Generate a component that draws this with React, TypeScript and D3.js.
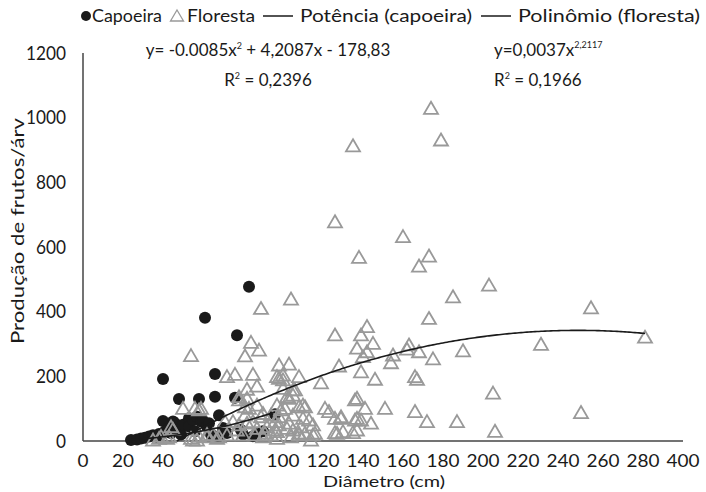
import React from 'react';
import * as d3 from 'd3';

// Diâmetro (cm), Produção de frutos/árv
const capoeira: [number, number][] = [
  [24, 3], [27, 5], [29, 8], [31, 10], [33, 14], [35, 18], [37, 12], [38, 22], [40, 192], [40, 62],
  [41, 30], [43, 40], [44, 25], [45, 60], [46, 55], [48, 130], [48, 35], [49, 20], [50, 50], [53, 70],
  [53, 45], [55, 65], [56, 30], [57, 75], [58, 130], [59, 60], [60, 63], [61, 381], [62, 45], [63, 55],
  [64, 20], [66, 207], [66, 137], [68, 80], [68, 15], [70, 40], [72, 25], [76, 134], [77, 327], [79, 34],
  [80, 20], [83, 477], [85, 15], [87, 21], [90, 30], [96, 83],
];

const floresta: [number, number][] = [
  [35, 3], [38, 8], [39, 14], [42, 8], [43, 13], [44, 44], [45, 36], [50, 101], [54, 8], [54, 264],
  [55, 3], [56, 101], [57, 3], [58, 14], [58, 96], [59, 101], [62, 13], [62, 20], [65, 19], [67, 8],
  [68, 13], [72, 19],
  [71, 60], [72, 199], [75, 60], [76, 206], [77, 34], [78, 137], [78, 50], [78, 127], [80, 19], [81, 80],
  [81, 106], [81, 263], [82, 55], [82, 160], [82, 132], [83, 101], [84, 305], [85, 206], [85, 60], [86, 19],
  [87, 170], [87, 111], [87, 39], [88, 281], [89, 410], [89, 75], [90, 85], [90, 13], [91, 24], [92, 44],
  [94, 80], [94, 19], [96, 60], [96, 34], [97, 29], [97, 199], [97, 111], [97, 8], [98, 235], [98, 194],
  [98, 75], [98, 50], [99, 96], [100, 204], [100, 189], [100, 163], [101, 101], [102, 137], [102, 39], [103, 238],
  [103, 132], [103, 55], [104, 439], [104, 13], [105, 158], [105, 142], [105, 80], [105, 34], [106, 158], [108, 199],
  [108, 106], [108, 19], [108, 24], [110, 111], [110, 70], [109, 44], [111, 24], [111, 106],
  [113, 65], [114, 3], [115, 50], [115, 19], [116, 24], [119, 180], [121, 101], [123, 91], [126, 678], [126, 328],
  [126, 70], [126, 26], [127, 24], [128, 232], [129, 70], [129, 75], [130, 29], [135, 913], [135, 26], [136, 127],
  [136, 65], [137, 287], [137, 132], [137, 70], [137, 34], [138, 568], [139, 328], [139, 214], [139, 65], [140, 261],
  [141, 101], [142, 354], [142, 276], [144, 55], [145, 302], [146, 191], [151, 101], [154, 242], [155, 266], [160, 632],
  [162, 284], [163, 297], [166, 199], [167, 191], [166, 91], [168, 541], [168, 276], [172, 60], [173, 572], [173, 379],
  [174, 1029], [175, 254], [179, 931], [185, 446], [187, 60], [190, 279],
  [203, 482], [205, 148], [206, 30], [229, 299], [249, 88], [254, 412], [281, 321],
];

// trend lines as printed on the chart
const polyCoef = [-0.0085, 4.2087, -178.83];
const polyRange = [47, 281];
const powerCoef = [0.0037, 2.2117];
const powerRange = [24, 96];

const xTickValues = [0, 20, 40, 60, 80, 100, 120, 140, 160, 180, 200, 220, 240, 260, 280, 300];
const xTickLabels = ['0', '20', '40', '60', '80', '100', '120', '140', '160', '180', '200', '220', '240', '260', '280', '400'];
const yTickValues = [0, 200, 400, 600, 800, 1000, 1200];

const W = 706;
const H = 492;
const font = 'Lato, "Noto Sans", sans-serif';
const ink = '#1a1a1a';

const triPath = 'M0,-6.5L7,5.5L-7,5.5Z';

export default function App() {
  const x = d3.scaleLinear().domain([0, 300]).range([83, 683]);
  const y = d3.scaleLinear().domain([0, 1200]).range([441, 53]);

  const polyPath = d3.line<number>()
    .x(d => x(d))
    .y(d => y(polyCoef[0] * d * d + polyCoef[1] * d + polyCoef[2]))(d3.range(polyRange[0], polyRange[1] + 0.5, 1));

  const powPath = d3.line<number>()
    .x(d => x(d))
    .y(d => y(powerCoef[0] * Math.pow(d, powerCoef[1])))(d3.range(powerRange[0], powerRange[1] + 0.5, 1));

  return (
    <svg width={W} height={H} style={{ position: 'absolute', left: 0, top: 0, background: '#fff' }}
      fontFamily={font}>
      {/* axes */}
      <line x1={x(0)} x2={x(0)} y1={y(1200)} y2={y(0)} stroke="#444" strokeWidth={1.5} />
      <line x1={x(0)} x2={x(300)} y1={y(0)} y2={y(0)} stroke="#444" strokeWidth={1.5} />

      {yTickValues.map(v => (
        <text key={v} x={66} y={y(v)} dy="0.35em" textAnchor="end" fontSize={19} fill={ink}
          textLength={String(v).length * 10} lengthAdjust="spacingAndGlyphs">{v}</text>
      ))}
      {xTickValues.map((v, i) => (
        <text key={v} x={x(v)} y={461} dy="0.35em" textAnchor="middle" fontSize={17} fill={ink}
          textLength={xTickLabels[i].length * 11} lengthAdjust="spacingAndGlyphs">{xTickLabels[i]}</text>
      ))}

      <text x={384} y={482} dy="0.35em" textAnchor="middle" fontSize={15} fill={ink}
        textLength={122} lengthAdjust="spacingAndGlyphs">Diâmetro (cm)</text>
      <text transform={`translate(18,231) rotate(-90)`} dy="0.35em" textAnchor="middle" fontSize={18} fill={ink}
        textLength={226} lengthAdjust="spacingAndGlyphs">
        Produção de frutos/árv
      </text>

      {/* points */}
      {capoeira.map((d, i) => (
        <circle key={'c' + i} cx={x(d[0])} cy={y(d[1])} r={6} fill={ink} />
      ))}
      {floresta.map((d, i) => (
        <path key={'f' + i} d={triPath} transform={`translate(${x(d[0])},${y(d[1])})`}
          fill="none" stroke="#999" strokeWidth={1.8} />
      ))}

      {/* trend lines */}
      <path d={polyPath || ''} fill="none" stroke={ink} strokeWidth={1.6} />
      <path d={powPath || ''} fill="none" stroke={ink} strokeWidth={1.6} />

      {/* legend */}
      <circle cx={86} cy={16} r={5} fill={ink} />
      <text x={92} y={16} dy="0.35em" fontSize={17} fill={ink} textLength={70} lengthAdjust="spacingAndGlyphs">Capoeira</text>
      <path d="M0,-6L6.5,5L-6.5,5Z" transform="translate(177,16)" fill="none" stroke="#999" strokeWidth={1.3} />
      <text x={187} y={16} dy="0.35em" fontSize={17} fill={ink} textLength={68} lengthAdjust="spacingAndGlyphs">Floresta</text>
      <line x1={263} x2={293} y1={16} y2={16} stroke={ink} strokeWidth={1.5} />
      <text x={300} y={16} dy="0.35em" fontSize={17} fill={ink} textLength={172} lengthAdjust="spacingAndGlyphs">Potência (capoeira)</text>
      <line x1={481} x2={511} y1={16} y2={16} stroke={ink} strokeWidth={1.5} />
      <text x={518} y={16} dy="0.35em" fontSize={17} fill={ink} textLength={182} lengthAdjust="spacingAndGlyphs">Polinômio (floresta)</text>

      {/* equations */}
      <text x={268} y={50} dy="0.35em" textAnchor="middle" fontSize={17} fill={ink}>
        y= -0.0085x<tspan dy="-7" fontSize={9}>2</tspan><tspan dy="7"> + 4,2087x - 178,83</tspan>
      </text>
      <text x={268} y={80} dy="0.35em" textAnchor="middle" fontSize={17} fill={ink}>
        R<tspan dy="-7" fontSize={9}>2</tspan><tspan dy="7"> = 0,2396</tspan>
      </text>
      <text x={494} y={50} dy="0.35em" fontSize={17} fill={ink}>
        y=0,0037x<tspan dy="-8" fontSize={9}>2,2117</tspan>
      </text>
      <text x={494} y={80} dy="0.35em" fontSize={17} fill={ink}>
        R<tspan dy="-7" fontSize={9}>2</tspan><tspan dy="7"> = 0,1966</tspan>
      </text>
    </svg>
  );
}
